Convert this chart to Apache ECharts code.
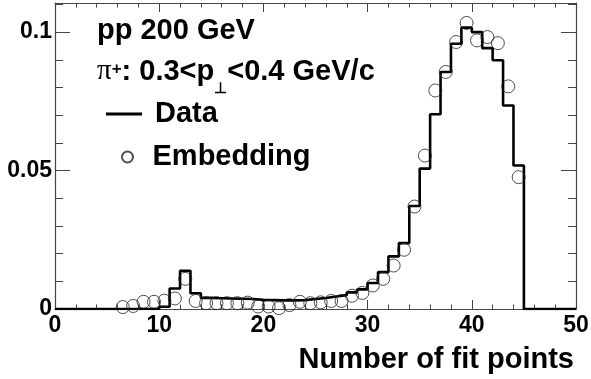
<!DOCTYPE html>
<html>
<head>
<meta charset="utf-8">
<script src="https://cdn.jsdelivr.net/npm/echarts@6/dist/echarts.min.js"></script>
<style>
html,body{margin:0;padding:0;background:#fff;}
#chart{width:591px;height:379px;}
</style>
</head>
<body>
<div id="chart"></div>
<script>
// ---- data ----
// Data histogram: lower bin edges 0..49 (bin width 1)
const dataBinLow = [0,1,2,3,4,5,6,7,8,9,10,11,12,13,14,15,16,17,18,19,20,21,22,23,24,25,26,27,28,29,30,31,32,33,34,35,36,37,38,39,40,41,42,43,44,45,46,47,48,49];
const dataValues = [0,0,0,0,0,0,0,0,0,0,
  0.0008,0.0074,0.0138,0.0057,0.0040,0.0039,0.0038,0.0037,0.0036,0.0033,
  0.0032,0.0031,0.0031,0.0032,0.0036,0.0040,0.0045,0.0050,0.0060,0.0071,
  0.0094,0.0133,0.0190,0.0238,0.0372,0.0507,0.0703,0.0856,0.0958,0.1016,
  0.1000,0.0942,0.0898,0.0735,0.0518,0,0,0,0,0];
const dataUpperEdge = 50;
// Embedding points at bin centres
const embCenters = [6.5,7.5,8.5,9.5,10.5,11.5,12.5,13.5,14.5,15.5,16.5,17.5,18.5,19.5,20.5,21.5,22.5,23.5,24.5,25.5,26.5,27.5,28.5,29.5,30.5,31.5,32.5,33.5,34.5,35.5,36.5,37.5,38.5,39.5,40.5,41.5,42.5,43.5,44.5];
const embValues = [0.0007,0.0011,0.0026,0.0026,0.0030,0.0038,0.0109,0.0029,0.0021,0.0021,
  0.0021,0.0021,0.0023,0.0009,0.0009,0.0003,0.0014,0.0026,0.0021,0.0024,
  0.0029,0.0029,0.0048,0.0058,0.0085,0.0109,0.0157,0.0214,0.0370,0.0554,
  0.0789,0.0856,0.0964,0.1033,0.0970,0.0982,0.0960,0.0804,0.0476];
const xMin = 0, xMax = 50, xMajor = 10, xMinor = 2;
const yMin = 0, yMax = 0.1105, yMajor = 0.05, yMinor = 0.01;
const yTickLabels = {0: '0', 0.05: '0.05', 0.1: '0.1'};
const xTitle = 'Number of fit points';

const FONT = '"Liberation Sans", Arial, Helvetica, sans-serif';
const AXC = '#444';

const lineData = dataBinLow.map((x, i) => [x, dataValues[i]]);
lineData.push([dataUpperEdge, 0]);
const scatterData = embCenters.map((x, i) => [x, embValues[i]]);

function xAx(pos, interval, len, showLine, showLabel) {
  return {
    type: 'value', position: pos, min: xMin, max: xMax, interval: interval,
    axisLine: {show: showLine, onZero: false, lineStyle: {color: AXC, width: 1.2}},
    axisTick: {show: true, inside: true, length: len, lineStyle: {color: AXC, width: 1}},
    splitLine: {show: false},
    axisLabel: {show: showLabel, margin: 5, fontSize: 23, fontWeight: 'bold', fontFamily: FONT, color: '#000'}
  };
}
function yAx(pos, interval, len, showLine, showLabel) {
  return {
    type: 'value', position: pos, min: yMin, max: yMax, interval: interval,
    axisLine: {show: showLine, onZero: false, lineStyle: {color: AXC, width: 1.2}},
    axisTick: {show: true, inside: true, length: len, lineStyle: {color: AXC, width: 1}},
    splitLine: {show: false},
    axisLabel: {show: showLabel, margin: 3, showMaxLabel: false, fontSize: 23, fontWeight: 'bold', fontFamily: FONT, color: '#000',
      formatter: function (v) { const k = Math.round(v * 100) / 100; return yTickLabels[k] !== undefined ? yTickLabels[k] : ''; }}
  };
}

const chart = echarts.init(document.getElementById('chart'), null, {renderer: 'canvas'});
chart.setOption({
  animation: false,
  backgroundColor: '#fff',
  grid: {left: 55, right: 15, top: 3, bottom: 70, containLabel: false, outerBoundsMode: 'none'},
  xAxis: [
    xAx('bottom', xMajor, 9, true, true),
    xAx('bottom', xMinor, 4.5, false, false),
    xAx('top', xMajor, 9, true, false),
    xAx('top', xMinor, 4.5, false, false)
  ],
  yAxis: [
    yAx('left', yMajor, 15, true, true),
    yAx('left', yMinor, 8, false, false),
    yAx('right', yMajor, 15, true, false),
    yAx('right', yMinor, 8, false, false)
  ],
  legend: [
    {data: ['Data'], orient: 'vertical', left: 106, top: 98, padding: 0, itemWidth: 36, itemHeight: 3, selectedMode: false,
     icon: 'rect',
     textStyle: {fontSize: 29, fontWeight: 'bold', fontFamily: FONT, color: '#000', lineHeight: 32, padding: [0, 0, 0, 8]}},
    {data: ['Embedding'], orient: 'vertical', left: 121, top: 141, padding: 0, itemWidth: 36, itemHeight: 11, selectedMode: false,
     textStyle: {fontSize: 29, fontWeight: 'bold', fontFamily: FONT, color: '#000', lineHeight: 32, padding: [0, 0, 0, 2]}}
  ],
  graphic: [
    {type: 'text', x: 97, y: 16, silent: true,
     style: {text: 'pp 200 GeV', font: 'bold 29px ' + FONT, fill: '#000', verticalAlign: 'top'}},
    {type: 'text', x: 97, y: 57, silent: true,
     style: {
       text: '{pi|π}{sup|+}{t|: 0.3<p}{sub|⊥}{t|<0.4 GeV/c}',
       verticalAlign: 'top',
       rich: {
         t: {font: 'bold 29px ' + FONT, fill: '#000', lineHeight: 34, verticalAlign: 'top'},
         pi: {font: '29px "Liberation Serif", "DejaVu Serif", serif', fill: '#000', lineHeight: 34, verticalAlign: 'top'},
         sup: {font: 'bold 17px ' + FONT, fill: '#000', lineHeight: 14, verticalAlign: 'top', padding: [4, 0, 0, 0]},
         sub: {font: 'bold 15px ' + FONT, fill: '#000', lineHeight: 14, verticalAlign: 'top', padding: [24, 0, 0, 0]}
       }
     }},
    {type: 'text', x: 574, y: 345, silent: true,
     style: {text: xTitle, font: 'bold 29px ' + FONT, fill: '#000', align: 'right', verticalAlign: 'top'}}
  ],
  series: [
    {name: 'Data', type: 'line', step: 'end', data: lineData, symbol: 'none',
     xAxisIndex: 0, yAxisIndex: 0,
     lineStyle: {color: '#000', width: 2.6}, itemStyle: {color: '#000'}, z: 3},
    {name: 'Embedding', type: 'scatter', data: scatterData, symbol: 'circle', symbolSize: 13,
     xAxisIndex: 0, yAxisIndex: 0,
     itemStyle: {color: 'rgba(255,255,255,0)', borderColor: '#222', borderWidth: 1}, z: 4}
  ]
});
</script>
</body>
</html>
